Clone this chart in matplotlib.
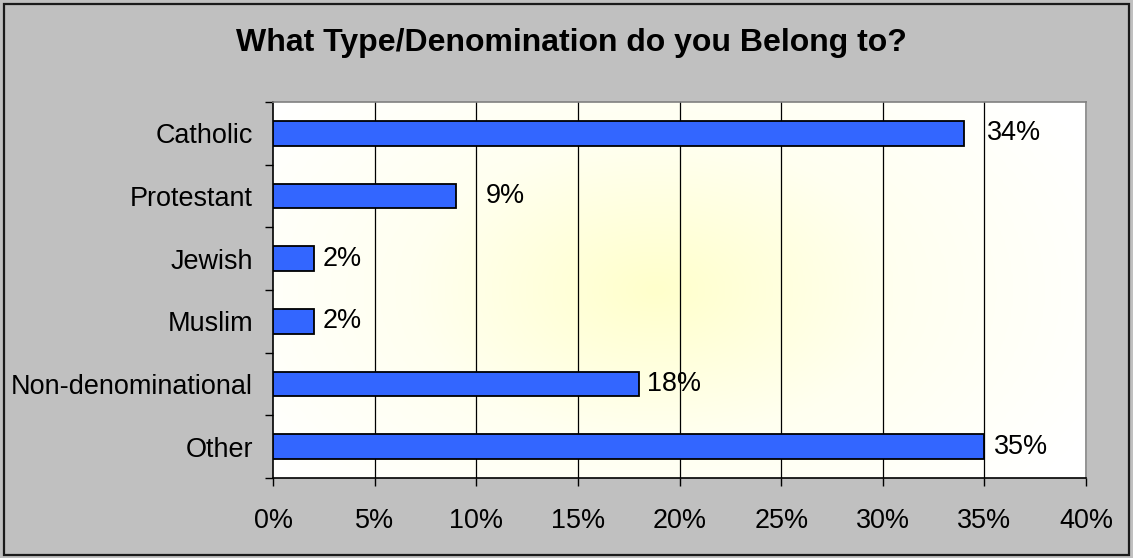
import numpy as np
import matplotlib.pyplot as plt
from matplotlib.colors import LinearSegmentedColormap

# ------------------- data -------------------
categories = ['Catholic', 'Protestant', 'Jewish', 'Muslim', 'Non-denominational', 'Other']
values = [34, 9, 2, 2, 18, 35]
value_labels = ['34%', '9%', '2%', '2%', '18%', '35%']
x_ticks = [0, 5, 10, 15, 20, 25, 30, 35, 40]
title = 'What Type/Denomination do you Belong to?'

# label gap from bar end in px (labels were nudged by hand in the original)
label_gap = [23, 30, 9, 9, 8, 9]

DPI = 100
plt.rcParams['font.family'] = ['Liberation Sans', 'DejaVu Sans']


def px(p):
    return p * 72 / DPI


fig = plt.figure(figsize=(11.33, 5.58), dpi=DPI, facecolor='#C0C0C0')
# outer black frame
fig.patches.append(plt.Rectangle((0.0035, 0.006), 0.993, 0.987, transform=fig.transFigure,
                                 fill=False, edgecolor='#1a1a1a', linewidth=1.6))

ax = fig.add_axes([0.2410, 0.1434, 0.7176, 0.6738])

# radial gradient background, pale yellow centre to white
gx, gy = np.meshgrid(np.linspace(0, 1, 400), np.linspace(0, 1, 200))
r = np.sqrt(((gx - 0.47) / 0.6) ** 2 + ((gy - 0.5) / 0.8) ** 2)
r = np.clip(r, 0, 1)
cmap = LinearSegmentedColormap.from_list('bg', ['#FFFFCC', '#FFFFF0', '#FFFFFF'])
ax.imshow(r, extent=[0, 40, -0.5, len(categories) - 0.5], cmap=cmap, aspect='auto',
          zorder=0, interpolation='bilinear', origin='lower')

ypos = np.arange(len(categories))
ax.barh(ypos, values, height=0.39, color='#3366FF', edgecolor='black', linewidth=1.3, zorder=3)

for y, v, lab, gap in zip(ypos, values, value_labels, label_gap):
    ax.annotate(lab, (v, y), xytext=(px(gap), 0), textcoords='offset points',
                ha='left', va='center', fontsize=px(27), zorder=4)

for t in x_ticks[1:-1]:
    ax.axvline(t, color='black', linewidth=0.9, zorder=1)

ax.set_xlim(0, 40)
ax.set_ylim(len(categories) - 0.5, -0.5)
ax.set_xticks(x_ticks)
ax.set_xticklabels([f'{t}%' for t in x_ticks], fontsize=px(27))
ax.set_yticks(ypos)
ax.set_yticklabels(categories, fontsize=px(27))
ax.set_yticks(np.arange(len(categories) + 1) - 0.5, minor=True)
ax.tick_params(axis='y', which='major', length=0, pad=px(20))
ax.tick_params(axis='y', which='minor', length=px(8), width=1, direction='out')
ax.tick_params(axis='x', length=px(8), width=1, direction='out', pad=px(22))

for side in ['left', 'bottom']:
    ax.spines[side].set_color('black')
    ax.spines[side].set_linewidth(1.2)
for side in ['top', 'right']:
    ax.spines[side].set_color('#808080')
    ax.spines[side].set_linewidth(1.2)

fig.text(0.504, 0.923, title, ha='center', va='center', fontsize=px(32), fontweight='bold')

fig.savefig('out.png', dpi=DPI, facecolor=fig.get_facecolor())
